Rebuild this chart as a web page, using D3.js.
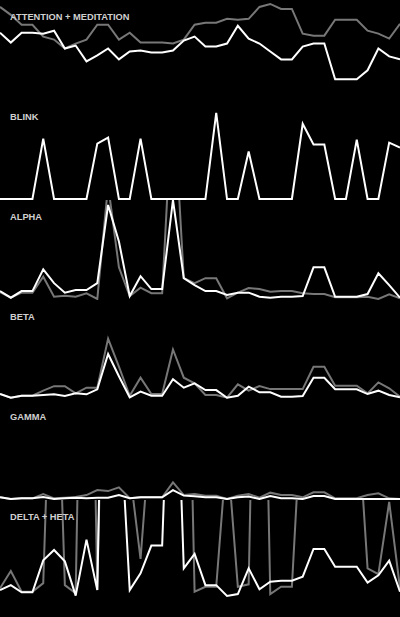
<!DOCTYPE html>
<html>
<head>
<meta charset="utf-8">
<script src="https://cdn.jsdelivr.net/npm/d3@7"></script>
<style>
  html, body { margin: 0; padding: 0; background: #000; }
  svg { display: block; }
</style>
</head>
<body>
<div id="chart"></div>
<script>
// Panel titles
const titles = ["ATTENTION + MEDITATION", "BLINK", "ALPHA", "BETA", "GAMMA", "DELTA + HETA"];

// Series values (percent of panel height scale, 38 samples each)
const attention = [67,57,67,67,66,69,51,54,38,44,51,40,48,49,47,47,49,59,63,53,53,56,74,61,56,48,40,40,53,56,56,20,20,20,29,51,43,40];
const meditation = [93,85,75,75,63,60,51,56,60,75,75,60,67,57,57,57,56,60,75,77,77,81,80,81,93,96,91,91,66,64,64,80,80,80,69,66,61,76];
const blink = [0,0,0,0,61,0,0,0,0,56,62,0,0,61,0,0,0,0,0,0,87,0,0,48,0,0,0,0,76,55,55,0,0,60,0,0,57,52];
const alphaLow = [8,1.3,8,8,30,16,6.4,9,9,16,95,58,3,23,10,10,100,21,14,8,8,4,6.4,6.4,2.3,1.3,2.3,2.3,3,32,32,2.3,2.3,2.3,5,26,14,1.3];
const alphaHigh = [7,1.3,6.4,6.4,22.5,2.3,3.3,2.3,5.8,0,115,32,3,11.4,5.8,5.8,213,21,16,21,21,0.7,6.4,11,10,7.4,8,8,5.8,5,5,1.7,1.7,1.7,2.3,0,4.7,0.7];
const betaLow = [5,1.3,3.3,3.3,4,4.7,3,5.7,4.7,9.8,45.5,23,1.7,7.4,3.3,3.3,20,11.4,15.8,9,9,1.3,3.3,12.4,6.8,6.8,2.3,2.3,3,21.5,21.5,9.8,9.8,9.8,5,8.4,4,1.7];
const betaHigh = [5,1.3,3.3,3.3,8.4,13,13,5.7,11.4,11.4,61,32.6,3.3,21.5,5,5,50,21.5,15.8,4,4,1.3,14.8,8.4,13,10,10,10,10,32.6,32.6,13.5,13.5,13.5,5.7,16.8,10.8,2.3];
const gammaLow = [1.7,0,0.7,0.7,2,0,0.7,1.3,0.7,1.3,1.3,4,0.7,1.7,1.7,1.7,9,3.4,2.7,1.7,1.7,0,1.7,2.4,0,3,0.7,0.7,0,3,3,0,0,0,0,0,0,0];
const gammaMid = [1.7,0,0.7,0.7,5,0.7,1.3,2,4,9,8,11.8,0.7,1.7,1.7,1.7,16.8,4,5,3.4,3.4,0,3.4,5,1.3,6.4,4,4,1.7,6.7,6.7,0.7,0.7,0.7,4,5.7,0.7,0];
const delta = [9,14,6.8,6.8,39,49.5,38,3.4,60,9,585,205,9,26,54,54,354,31,45.5,14,14,3,5,31,9.8,17.5,18.5,18.5,22.5,50.5,50.5,32.6,32.6,32.6,16.5,24,38.7,7.4];
const theta = [10.8,28.3,7.4,7.4,16,352,14,5.8,606,9,505,505,130,40.4,184,505,505,505,7.4,12.4,12.4,153,12.4,14.8,555,5,12.4,12.4,213,505,505,505,505,200,31,25,98,11];

// panels: [white series, gray series]
const panels = [
  [attention, meditation],
  [blink, null],
  [alphaLow, alphaHigh],
  [betaLow, betaHigh],
  [gammaLow, gammaMid],
  [delta, theta]
];

const W = 400, H = 617, PH = 100;
const svg = d3.select("#chart").append("svg").attr("width", W).attr("height", H)
  .style("background", "#000");

const n = attention.length;
const x = d3.scaleLinear().domain([0, n - 1]).range([0, W]);
const y = d3.scaleLinear().domain([0, 100]).range([PH - 1, 0]);
const line = d3.line().x((d, i) => x(i)).y(d => y(d));

const defs = svg.append("defs");

panels.forEach((p, k) => {
  const g = svg.append("g").attr("transform", `translate(0,${k * PH})`);
  defs.append("clipPath").attr("id", "clip" + k)
    .append("rect").attr("x", 0).attr("y", 0).attr("width", W).attr("height", PH);
  const lg = g.append("g").attr("clip-path", `url(#clip${k})`);
  if (p[1]) {
    lg.append("path").datum(p[1]).attr("d", line)
      .attr("fill", "none").attr("stroke", "#777").attr("stroke-width", 2)
      .attr("stroke-linejoin", "miter");
  }
  lg.append("path").datum(p[0]).attr("d", line)
    .attr("fill", "none").attr("stroke", "#fff").attr("stroke-width", 2)
    .attr("stroke-linejoin", "miter");
  g.append("text").attr("x", 10).attr("y", 20)
    .attr("fill", "#d0d0d0")
    .style("font-family", "'Liberation Sans', Arial, Helvetica, sans-serif")
    .style("font-weight", "bold")
    .style("font-size", "9.3px")
    .text(titles[k]);
});
</script>
</body>
</html>
